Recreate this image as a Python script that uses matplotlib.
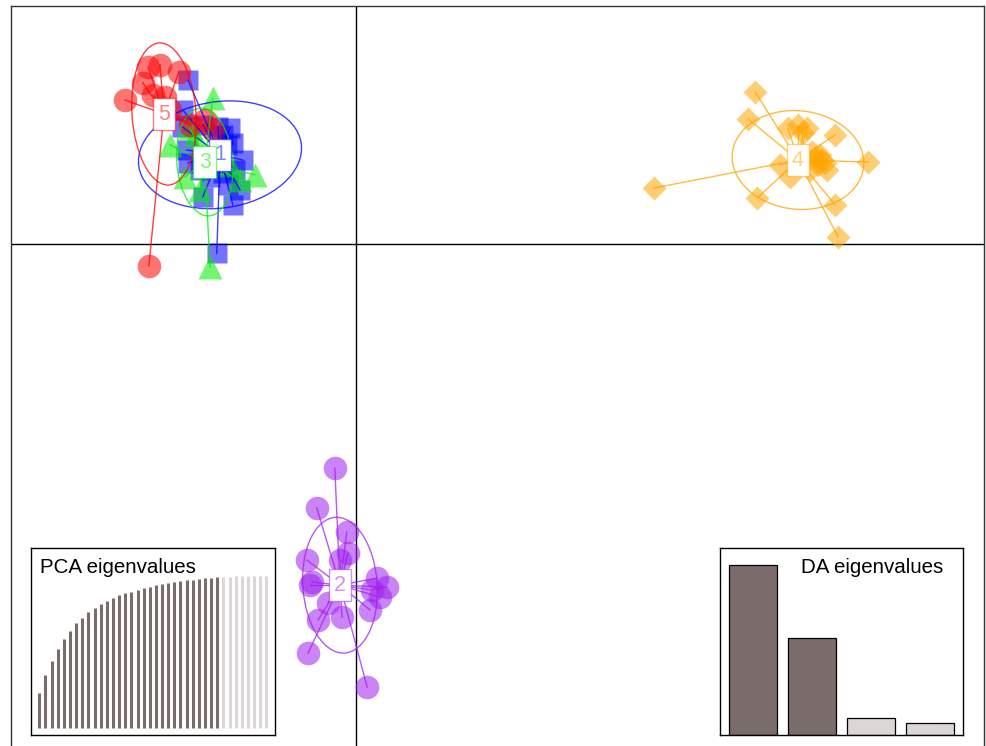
import numpy as np
import matplotlib
matplotlib.use("Agg")
import matplotlib.pyplot as plt
from matplotlib.patches import Ellipse
from matplotlib.colors import to_rgba

plt.rcParams['font.family'] = ['Liberation Sans', 'DejaVu Sans']

# ---- discriminant function scores (LD1, LD2) per cluster ----
groups = ["1", "2", "3", "4", "5"]
group_colors = ["#0000FF", "#A020F0", "#00EE00", "#FFA500", "#FF0000"]
group_markers = ["s", "o", "^", "D", "o"]
marker_sizes = [14.5, 17, 17.5, 12.5, 17]

ld1_g1 = [-4.20, -4.33, -4.35, -3.83, -3.45, -3.15, -3.33, -3.23, -3.08, -2.83, -3.03,
          -3.33, -3.65, -3.90, -3.83, -3.08, -3.48, -4.23, -4.20, -3.53, -3.20, -2.90]
ld2_g1 = [4.10, 3.35, 2.93, 2.98, 2.93, 2.90, 2.73, 2.48, 2.53, 2.10, 1.85,
          1.78, 1.68, 1.85, 1.18, 0.98, -0.23, 2.35, 2.03, 2.10, 1.48, 1.35]

ld1_g2 = [-0.53, -0.98, -0.23, -1.23, -0.40, -0.20, -1.10, -1.15, 0.53, 0.78, 0.60,
          0.35, -0.70, -0.95, -0.35, -1.20, 0.28, 0.40]
ld2_g2 = [-5.60, -6.60, -7.20, -7.90, -7.90, -7.73, -8.45, -8.53, -8.35, -8.58, -8.83,
          -9.15, -8.98, -9.40, -9.33, -10.23, -11.08, -8.65]

ld1_g3 = [-3.58, -4.65, -2.53, -2.90, -4.28, -3.65, -4.03, -3.40, -3.15, -3.90, -4.15]
ld2_g3 = [3.65, 2.48, 1.73, 1.60, 1.68, -0.58, 2.73, 2.35, 1.98, 1.35, 2.90]

ld1_g4 = [9.98, 9.80, 11.05, 10.80, 11.28, 11.98, 12.80, 11.60, 11.78, 10.85, 10.60,
          10.03, 11.98, 12.05, 7.45, 11.48, 11.65, 11.55, 11.40, 11.73, 11.18, 11.35]
ld2_g4 = [3.80, 3.13, 2.98, 2.90, 2.90, 2.73, 2.05, 2.23, 1.85, 1.68, 1.98,
          1.15, 0.98, 0.18, 1.40, 2.15, 2.10, 1.98, 2.30, 2.03, 2.78, 1.85]

ld1_g5 = [-5.78, -5.33, -5.20, -4.90, -4.43, -5.08, -4.78, -5.18, -3.78, -3.58, -4.15, -4.65]
ld2_g5 = [3.60, 4.03, 4.43, 4.48, 4.30, 3.73, 3.68, -0.55, 3.10, 2.85, 2.98, 3.35]

# cluster centroids
centroid_ld1 = [-3.40, -0.40, -3.78, 11.05, -4.80]
centroid_ld2 = [2.23, -8.53, 2.05, 2.10, 3.25]

# inertia ellipses: semi-axes and rotation (degrees)
ellipse_a = [2.05, 0.93, 0.70, 1.65, 0.80]
ellipse_b = [1.33, 1.70, 1.35, 1.23, 1.78]
ellipse_angle = [8, 4, 5, -6, 4]

# ---- eigenvalue insets ----
pca_cumvar = [23.3, 34.7, 44.3, 51.8, 58.3, 63.8, 68.8, 72.5, 76.0, 78.8,
              81.5, 83.6, 85.6, 87.2, 88.5, 89.5, 90.6, 91.7, 92.8, 93.9,
              94.6, 95.2, 95.9, 96.3, 97.0, 97.4, 97.8, 98.3, 98.7, 98.9,
              99.2, 99.3, 99.6, 99.6, 99.8, 99.8, 100.0, 100.0]
n_pca_retained = 30
da_eigenvalues = [170.0, 96.7, 16.7, 11.7]
n_da_retained = 2

ld1_all = [ld1_g1, ld1_g2, ld1_g3, ld1_g4, ld1_g5]
ld2_all = [ld2_g1, ld2_g2, ld2_g3, ld2_g4, ld2_g5]

W, H = 986, 746
fig = plt.figure(figsize=(W / 100, H / 100), dpi=100)

scale = 40.0
x0, y0 = 356, 244
left_px, right_px, top_px, bottom_px = 11, 984, 6, 760
ax = fig.add_axes([left_px / W, (H - bottom_px) / H,
                   (right_px - left_px) / W, (bottom_px - top_px) / H])
ax.set_xlim((left_px - x0) / scale, (right_px - x0) / scale)
ax.set_ylim((y0 - bottom_px) / scale, (y0 - top_px) / scale)
ax.set_xticks([])
ax.set_yticks([])
for sp in ax.spines.values():
    sp.set_color("#333333")
    sp.set_linewidth(1.0)

ax.axhline(0, color="black", lw=1.0, zorder=1)
ax.axvline(0, color="black", lw=1.0, zorder=1)

alpha = 0.55
for i, g in enumerate(groups):
    xs, ys = np.array(ld1_all[i]), np.array(ld2_all[i])
    ax.plot(xs, ys, linestyle="none", marker=group_markers[i],
            markersize=marker_sizes[i], markerfacecolor=group_colors[i],
            markeredgecolor="none", alpha=alpha, zorder=2)
for i, g in enumerate(groups):
    xs, ys = np.array(ld1_all[i]), np.array(ld2_all[i])
    col = group_colors[i]
    cx, cy = centroid_ld1[i], centroid_ld2[i]
    for px, py in zip(xs, ys):
        ax.plot([cx, px], [cy, py], color=col, lw=1.0, alpha=0.75, zorder=3)
    ax.add_patch(Ellipse((cx, cy), 2 * ellipse_a[i], 2 * ellipse_b[i],
                         angle=ellipse_angle[i], fill=False, edgecolor=col,
                         lw=1.0, alpha=0.75, zorder=3))
for i, g in enumerate(groups):
    col = group_colors[i]
    ax.text(centroid_ld1[i], centroid_ld2[i], g, fontsize=15.5, ha="center",
            va="center", color=to_rgba(col, 0.5), zorder=5,
            bbox=dict(boxstyle="square,pad=0.25", facecolor="white",
                      edgecolor=to_rgba(col, 0.5), linewidth=1.0))

dark = "#7A6C6B"
light = "#DCD6D6"

# PCA eigenvalue inset
pca_ax = fig.add_axes([31 / W, (H - 735) / H, 244 / W, 187 / H])
idx = np.arange(1, len(pca_cumvar) + 1)
cols = [dark if k <= n_pca_retained else light for k in idx]
pca_ax.vlines(idx, 0, pca_cumvar, colors=cols, lw=2.2)
pca_ax.set_xlim(-0.35, 39.4)
pca_ax.set_ylim(-4.4, 118.2)
pca_ax.set_xticks([])
pca_ax.set_yticks([])
for sp in pca_ax.spines.values():
    sp.set_color("black")
    sp.set_linewidth(1.0)
pca_ax.text(0.037, 0.898, "PCA eigenvalues", transform=pca_ax.transAxes,
            ha="left", va="center", fontsize=14.8, color="black")

# DA eigenvalue inset
da_ax = fig.add_axes([720 / W, (H - 735) / H, 243 / W, 187 / H])
didx = np.arange(len(da_eigenvalues))
dcols = [dark if k < n_da_retained else light for k in didx]
da_ax.bar(didx, da_eigenvalues, width=0.814, color=dcols, edgecolor="black",
          linewidth=0.9)
da_ax.set_xlim(-0.56, 3.56)
da_ax.set_ylim(0, 187)
da_ax.set_xticks([])
da_ax.set_yticks([])
for sp in da_ax.spines.values():
    sp.set_color("black")
    sp.set_linewidth(1.0)
da_ax.text(0.918, 0.898, "DA eigenvalues", transform=da_ax.transAxes,
           ha="right", va="center", fontsize=14.8, color="black")

fig.savefig("out.png", dpi=100)
